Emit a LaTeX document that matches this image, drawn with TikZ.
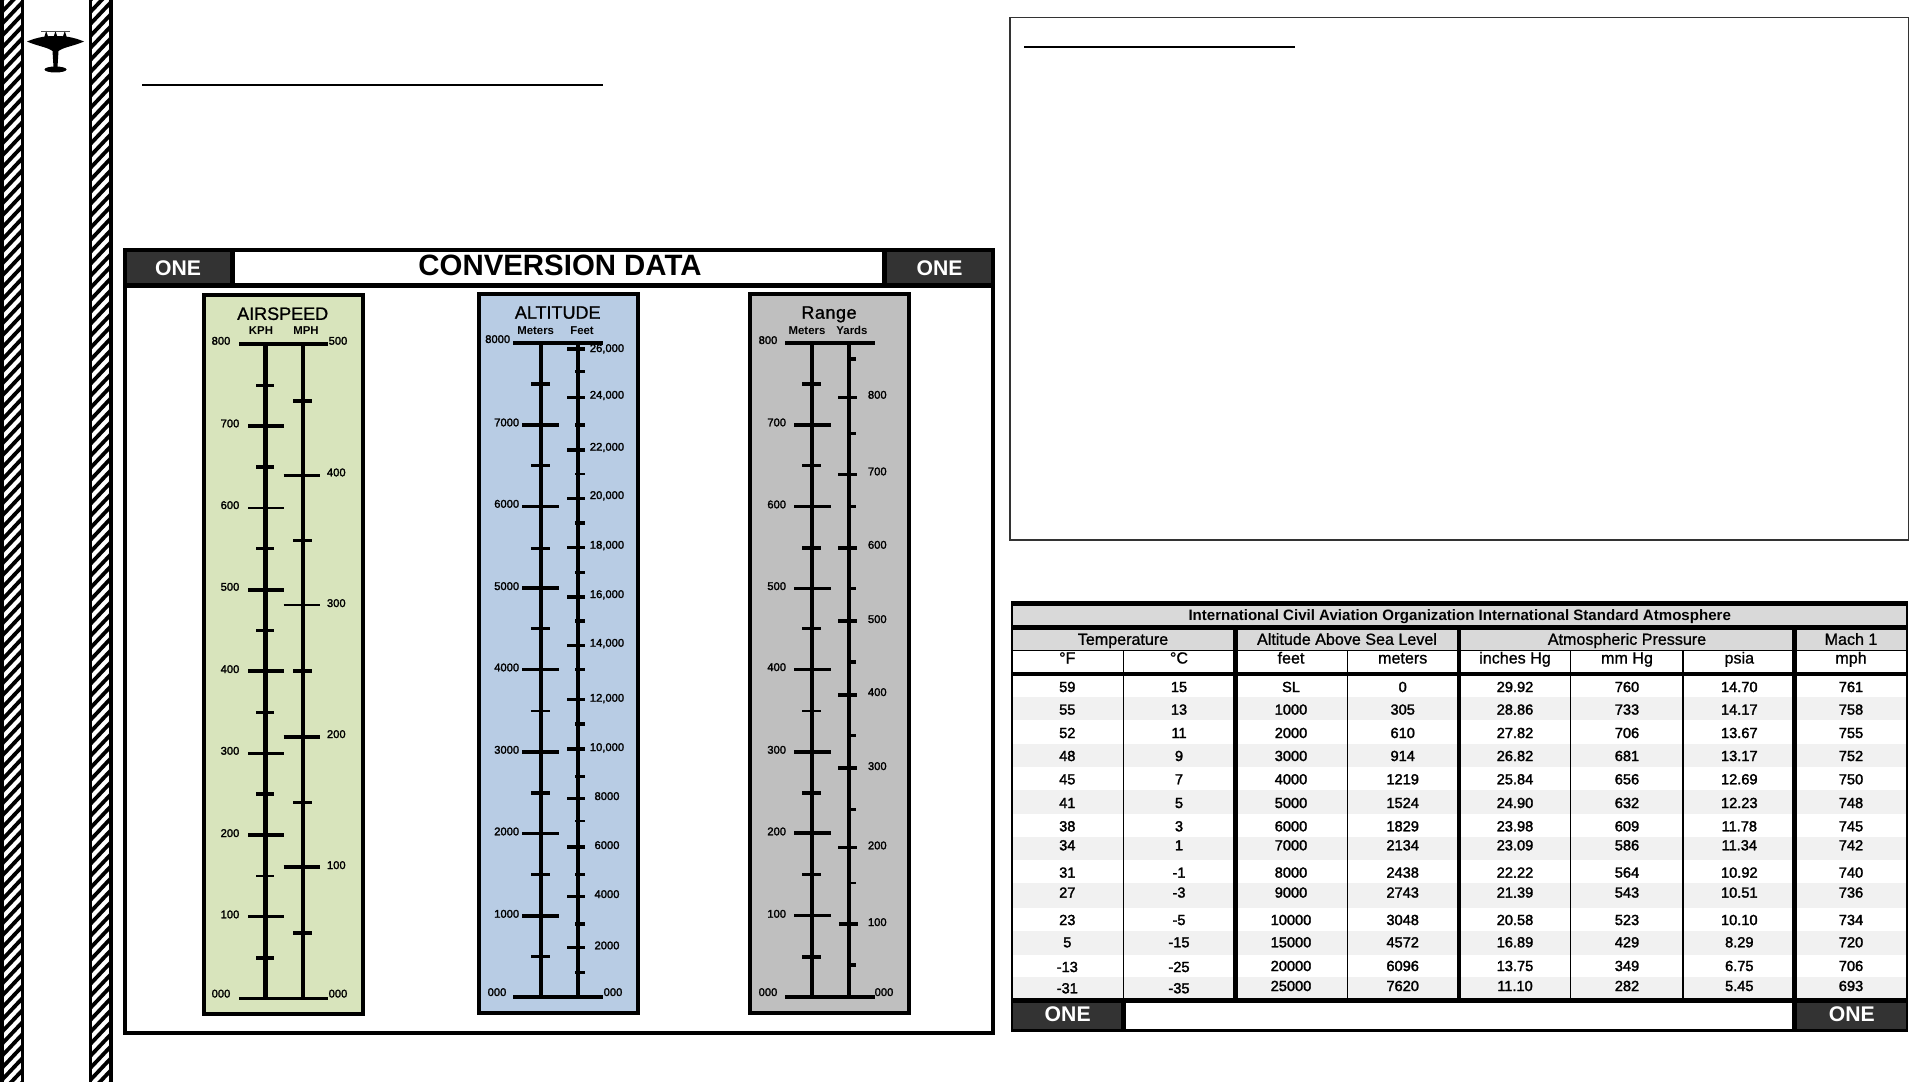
\documentclass[tikz,border=0pt]{standalone}
\usepackage{fontspec}
\setmainfont{Liberation Sans}
\usetikzlibrary{positioning}

\definecolor{airgreen}{HTML}{D8E4BC}
\definecolor{altblue}{HTML}{B8CCE4}
\definecolor{rangegrey}{HTML}{BFBFBF}
\definecolor{onedark}{HTML}{333333}
\definecolor{headgrey}{HTML}{D9D9D9}
\definecolor{bandgrey}{HTML}{F1F1F1}

\begin{document}
\begin{tikzpicture}[x=0.5pt,y=-0.5pt]

\tikzset{textbase/.style = {inner sep=0pt,text depth=0pt}}
\tikzset{onetag/.style = {textbase,text height=7.6pt,text=white,font=\fontsize{10.6}{12}\selectfont\bfseries}}
\tikzset{scaletitle/.style = {textbase,text height=6.4pt,font=\fontsize{9}{11}\selectfont\addfontfeature{FakeBold=1}}}
\tikzset{unitlabel/.style = {textbase,text height=4.1pt,font=\fontsize{5.7}{7}\selectfont\bfseries}}
\tikzset{ticklabel/.style = {textbase,text height=4pt,font=\fontsize{5.6}{7}\selectfont\addfontfeature{FakeBold=2}}}
\tikzset{cellnum/.style = {textbase,text height=5.3pt,font=\fontsize{7.3}{9}\selectfont\addfontfeature{FakeBold=2}}}
\tikzset{headtext/.style = {textbase,text height=5.8pt,font=\fontsize{8.05}{10}\selectfont\addfontfeature{FakeBold=1}}}
\tikzset{scalebox/.style = {draw=black,line width=2pt}}
\tikzset{endline/.style = {line width=1.6pt}}
\tikzset{endheavy/.style = {line width=2pt}}

\useasboundingbox (0,0) rectangle (1921,1081);

% side strips
\foreach \a/\b in {2/22.5,90.5/111} {
  \begin{scope}
    \clip (\a,-2) rectangle (\b,1083);
    \foreach \k in {-2,...,92}
      \draw[line width=1.9pt] (\a-2,12*\k+26) -- (\b+2,12*\k);
  \end{scope}
  \draw[line width=1.8pt] (\a,-5) rectangle (\b,1086);
}

% plane
\fill (27,41.5) .. controls (38,37) and (46,36) .. (55.5,36) .. controls (65,36) and (73,37) .. (84,41.5)
  .. controls (74,46) and (64,47) .. (58.5,51) -- (57.5,67) -- (53.5,67) -- (52.5,51)
  .. controls (47,47) and (37,46) .. cycle;
\fill (55.5,69.5) ellipse [x radius=11,y radius=3];
\fill (46.2,31) -- (44,38) -- (48.5,38) -- cycle;
\fill (55.5,31) -- (53.2,38) -- (57.8,38) -- cycle;
\fill (64.8,31) -- (62.5,38) -- (67,38) -- cycle;
\draw[line width=0.4pt,black!70] (41,31) -- (70,31);

% rules
\draw[line width=1.2pt] (142,85) -- (603,85);
\draw[line width=0.8pt] (1024,47) -- (1295,47);
\draw[line width=0.8pt,black!80] (1010,17.5) rectangle (1908.5,540);

% conversion panel
\draw[line width=2pt] (124.5,250) rectangle (992.5,1033);
\fill (124.5,250) rectangle (992.5,288);
\fill[onedark] (127,252) rectangle (230,283);
\fill[white] (235,252) rectangle (882,283);
\fill[onedark] (887,252) rectangle (990.5,283);
\node[onetag] (oneleft) at (178,268) {ONE};
\node[onetag] (oneright) at (939.5,268) {ONE};
\node[textbase,text height=9.6pt,font=\fontsize{14.7}{17}\selectfont\bfseries] (convtitle) at (560,266) {CONVERSION DATA};

% airspeed
\draw[scalebox,fill=airgreen] (204,295) rectangle (363,1014);
\node[scaletitle] (airtitle) at (282.7,313.5) {AIRSPEED};
\node[unitlabel] (kph) at (261,330.7) {KPH};
\node[unitlabel] (mph) at (306,330.7) {MPH};
\draw[endline] (239,344) -- (327.7,344);
\draw[endline] (239,998.3) -- (327.7,998.3);
\draw[line width=2.4pt] (265.3,344) -- (265.3,998.3);
\draw[line width=2pt] (303,344) -- (303,998.3);
\foreach \y/\w in {425.7/4,507.7/2,589.7/4,670.7/4,753.3/2.5,834.7/4,916.3/2.5}
  \draw[line width=\w*0.5pt] (248,\y) -- (284,\y);
\foreach \y/\w in {385.3/2.5,467/4,548.7/3,630.3/3,712.3/3,794/4,875.7/2,957.7/4}
  \draw[line width=\w*0.5pt] (256,\y) -- (274,\y);
\foreach \y/\w in {475.3/3,605.3/2,736.7/4,867/4.5}
  \draw[line width=\w*0.5pt] (283.7,\y) -- (320,\y);
\foreach \y/\w in {401/3.5,540.3/3,670.7/4,802.3/3,933/4}
  \draw[line width=\w*0.5pt] (293,\y) -- (312,\y);
\foreach \t/\y in {700/423.3,600/505,500/586.7,400/669,300/750.7,200/833,100/914.3}
  \node[ticklabel] (kph\t) at (230,\y) {\t};
\foreach \t/\y in {400/472.3,300/603,200/734,100/865}
  \node[ticklabel] (mph\t) at (336.3,\y) {\t};
\node[ticklabel] (kphtop) at (221,340.7) {800};
\node[ticklabel] (kphzero) at (221,993.5) {000};
\node[ticklabel] (mphtop) at (338,340.7) {500};
\node[ticklabel] (mphzero) at (338,993.5) {000};

% altitude
\draw[scalebox,fill=altblue] (478.5,293.5) rectangle (638,1013);
\node[scaletitle] (alttitle) at (557.7,312.3) {ALTITUDE};
\node[unitlabel] (altm) at (535.7,330) {Meters};
\node[unitlabel] (altft) at (582,330) {Feet};
\draw[endheavy] (513.3,342.7) -- (602.7,342.7);
\draw[endheavy] (513.3,996.7) -- (602.7,996.7);
\draw[line width=1.8pt] (540.7,342.7) -- (540.7,996.7);
\draw[line width=2pt] (578,342.7) -- (578,996.7);
\foreach \y/\w in {424.7/4,506.3/2.5,587.7/4,669.7/3,751.7/4,833.3/2.5,915.7/4}
  \draw[line width=\w*0.5pt] (522.3,\y) -- (559,\y);
\foreach \y/\w in {384/4,465/3,548/3,628.7/3,711/2,793/4,874.3/3,956.3/3}
  \draw[line width=\w*0.5pt] (531,\y) -- (550,\y);
\foreach \y/\w in {348.7/4,397.3/3,449.7/4,498/3,547.7/3.5,596.7/4,645.7/3,699.3/3,748.7/4,798/3,846.7/4,896/3,947.3/3.5}
  \draw[line width=\w*0.5pt] (567,\y) -- (585,\y);
\foreach \y/\w in {371.7/3.5,424.7/4,474/2.5,523/4,572.3/2.5,621/3.5,669.7/3,724/3.5,776.3/3,820.7/2,874.3/3,923.7/4,972.3/3}
  \draw[line width=\w*0.5pt] (575,\y) -- (585,\y);
\foreach \t/\y in {7000/422.3,6000/503.7,5000/586,4000/667.3,3000/749.7,2000/831.3,1000/913.7}
  \node[ticklabel] (altm\t) at (506.7,\y) {\t};
\foreach \y/\t [count=\i] in {348/26{,}000,394.7/24{,}000,446.7/22{,}000,495/20{,}000,544.7/18{,}000,594/16{,}000,642.7/14{,}000,697.7/12{,}000,747/10{,}000,796/8000,845/6000,894/4000,945.3/2000}
  \node[ticklabel] (altft\i) at (607,\y) {\t};
\node[ticklabel] (altmtop) at (497.7,339) {8000};
\node[ticklabel] (altmzero) at (497,992) {000};
\node[ticklabel] (altftzero) at (613,992) {000};

% range
\draw[scalebox,fill=rangegrey] (750,294) rectangle (909,1012.7);
\node[scaletitle] (rangetitle) at (829,312.3) {\addfontfeature{LetterSpace=3}Range};
\node[unitlabel] (rngm) at (807,330) {Meters};
\node[unitlabel] (rngyd) at (852,330) {Yards};
\draw[endheavy] (785,343.3) -- (875,343.3);
\draw[endheavy] (785,996.7) -- (875,996.7);
\draw[line width=1.8pt] (812,343.3) -- (812,996.7);
\draw[line width=2pt] (849,343.3) -- (849,996.7);
\foreach \y/\w in {424.7/4,506.3/3,588.3/3,669.7/3,751.7/4,833.3/4,915.7/3.5}
  \draw[line width=\w*0.5pt] (794,\y) -- (831,\y);
\foreach \y/\w in {384/4,465.3/2.5,547.7/4,628.7/3.5,711/2.5,793/4,874.3/3,956.7/4}
  \draw[line width=\w*0.5pt] (802,\y) -- (821,\y);
\foreach \y/\w in {397.3/3.5,474.3/3,547.7/4,620.7/4,694.7/4,768/3.5,847.3/3.5}
  \draw[line width=\w*0.5pt] (838,\y) -- (857,\y);
\draw[line width=2pt] (839,923.7) -- (858,923.7);
\foreach \y/\w in {359/4,433/3,506.3/3,588.3/3,661.7/4,735.7/3,809.3/3,883/2.5,964.7/4}
  \draw[line width=\w*0.5pt] (849,\y) -- (856,\y);
\foreach \t/\y in {700/422.3,600/504.3,500/586,400/667,300/749.7,200/831.3,100/913.7}
  \node[ticklabel] (rngm\t) at (776.7,\y) {\t};
\foreach \t/\y in {800/394.7,700/471.3,600/544.7,500/619,400/692,300/766,200/845.3,100/922}
  \node[ticklabel] (rngyd\t) at (877.3,\y) {\t};
\node[ticklabel] (rngmtop) at (768,340) {800};
\node[ticklabel] (rngmzero) at (768,992) {000};
\node[ticklabel] (rngydzero) at (884,992) {000};

% atmosphere table, black ground
\fill (1010.7,601) rectangle (1907.7,1031.7);
\fill[headgrey] (1012.7,605.7) rectangle (1905.7,625);
\fill[headgrey] (1012.7,630) rectangle (1905.7,650);
\fill[white] (1012.7,651) rectangle (1905.7,672.3);
\fill[white] (1012.7,676) rectangle (1905.7,998.3);
\foreach \a/\b in {696.7/720,744/766.7,790/814,836.7/860,882.7/908.3,930.7/955,976.7/998.3}
  \fill[bandgrey] (1012.7,\a) rectangle (1905.7,\b);
\fill[white] (1126,1002.7) rectangle (1792.3,1029);
\fill[onedark] (1012.7,1002.7) rectangle (1121,1029);
\fill[onedark] (1797,1002.7) rectangle (1905.7,1029);
\foreach \x in {1123.5,1347.7,1570.7,1683}
  \draw[line width=0.75pt] (\x,651) -- (\x,998.3);
\foreach \x/\w in {1235.7/4.5,1459.3/4}
  \draw[line width=\w*0.5pt] (\x,630) -- (\x,998.3);
\draw[line width=2.35pt] (1794.7,630) -- (1794.7,1031);
\node[onetag] (onebl) at (1067.7,1014.3) {ONE};
\node[onetag] (onebr) at (1851.7,1014.3) {ONE};

% table heads
\node[textbase,text height=5.3pt,font=\fontsize{7.54}{9}\selectfont\bfseries] (tabtitle) at (1459.7,615) {International Civil Aviation Organization International Standard Atmosphere};
\node[headtext] (htemp) at (1123,639) {Temperature};
\node[headtext] (halt) at (1347,639) {Altitude Above Sea Level};
\node[headtext] (hpress) at (1627,639) {Atmospheric Pressure};
\node[headtext] (hmach) at (1851,639) {Mach 1};
\node[headtext] (uf) at (1067.3,657.7) {°F};
\node[headtext] (uc) at (1179,657.7) {°C};
\node[headtext] (ufeet) at (1291,657.7) {feet};
\node[headtext] (umeters) at (1402.7,657.7) {meters};
\node[headtext] (uhg) at (1515,657.7) {inches Hg};
\node[headtext] (umm) at (1627,657.7) {mm Hg};
\node[headtext] (upsia) at (1739.3,657.7) {psia};
\node[headtext] (umph) at (1851,657.7) {mph};

% table rows
\foreach \y/\ty/\a/\b/\c/\d/\e/\f/\g/\h [count=\i] in {
  686.7/686.7/59/15/SL/0/29.92/760/14.70/761,
  709.3/709.3/55/13/1000/305/28.86/733/14.17/758,
  732.7/732.7/52/11/2000/610/27.82/706/13.67/755,
  755.7/755.7/48/9/3000/914/26.82/681/13.17/752,
  779/779/45/7/4000/1219/25.84/656/12.69/750,
  802.7/802.7/41/5/5000/1524/24.90/632/12.23/748,
  826/826/38/3/6000/1829/23.98/609/11.78/745,
  845/845/34/1/7000/2134/23.09/586/11.34/742,
  872.3/872.3/31/-1/8000/2438/22.22/564/10.92/740,
  892.3/892.3/27/-3/9000/2743/21.39/543/10.51/736,
  919.7/919.7/23/-5/10000/3048/20.58/523/10.10/734,
  942/942/5/-15/15000/4572/16.89/429/8.29/720,
  965.7/966.7/-13/-25/20000/6096/13.75/349/6.75/706,
  985.7/988/-31/-35/25000/7620/11.10/282/5.45/693} {
  \node[cellnum] (fahr\i) at (1067.3,\ty) {\a};
  \node[cellnum] (cels\i) at (1179,\ty) {\b};
  \node[cellnum] (feet\i) at (1291,\y) {\c};
  \node[cellnum] (mtrs\i) at (1402.7,\y) {\d};
  \node[cellnum] (inhg\i) at (1515,\y) {\e};
  \node[cellnum] (mmhg\i) at (1627,\y) {\f};
  \node[cellnum] (psia\i) at (1739.3,\y) {\g};
  \node[cellnum] (mach\i) at (1851,\y) {\h};
}

\end{tikzpicture}
\end{document}
